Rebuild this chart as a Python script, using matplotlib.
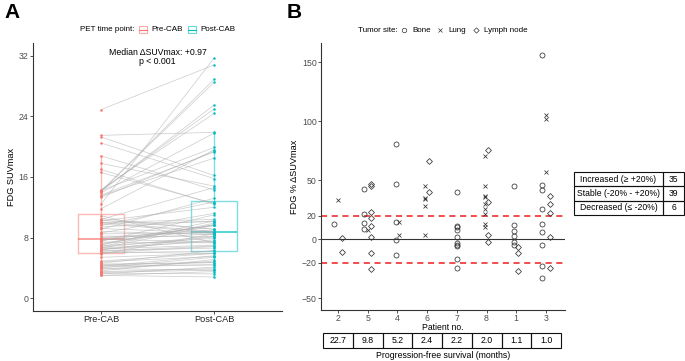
import matplotlib
matplotlib.use('Agg')
import matplotlib.pyplot as plt
import numpy as np
from matplotlib.patches import Rectangle
from matplotlib.lines import Line2D

plt.rcParams['font.family'] = ['Liberation Sans', 'DejaVu Sans']

# ---------------- data ----------------
patient_order = ['2', '5', '4', '6', '7', '8', '1', '3']
pfs_months = [22.7, 9.8, 5.2, 2.4, 2.2, 2.0, 1.1, 1.0]

lesion_patient = (['2'] * 4 + ['5'] * 13 + ['4'] * 7 + ['6'] * 7 + ['7'] * 10 +
                  ['8'] * 13 + ['1'] * 9 + ['3'] * 17)
lesion_site = [
    'Bone', 'Lung', 'Lymph node', 'Lymph node',
    'Lymph node', 'Lymph node', 'Bone', 'Lymph node', 'Bone', 'Lymph node', 'Bone',
    'Lymph node', 'Bone', 'Lung', 'Lymph node', 'Lymph node', 'Lymph node',
    'Bone', 'Bone', 'Bone', 'Lung', 'Lung', 'Bone', 'Bone',
    'Lymph node', 'Lung', 'Lymph node', 'Lung', 'Lung', 'Lung', 'Lung',
    'Bone', 'Bone', 'Bone', 'Bone', 'Bone', 'Bone', 'Bone', 'Bone', 'Bone', 'Bone',
    'Lymph node', 'Lung', 'Lung', 'Lung', 'Lung', 'Lymph node', 'Lung', 'Lung', 'Lung',
    'Lung', 'Lung', 'Lymph node', 'Lymph node',
    'Bone', 'Bone', 'Bone', 'Bone', 'Bone', 'Bone', 'Lymph node', 'Lymph node', 'Lymph node',
    'Bone', 'Lung', 'Lung', 'Lung', 'Bone', 'Bone', 'Lymph node', 'Lymph node', 'Bone',
    'Lymph node', 'Bone', 'Bone', 'Lymph node', 'Bone', 'Bone', 'Lymph node', 'Bone']
pct_change = [
    13, 33, 1, -11,
    47, 45, 43, 23, 21, 18, 14, 11, 9, 8, 2, -12, -25,
    81, 47, 15, 15, 4, -1, -13,
    66, 45, 40, 35, 34, 28, 4,
    40, 11, 10, 8, 1.5, -3, -5, -6, -17, -24,
    76, 71, 45, 37, 36, 32, 30, 26, 21, 13, 10, 4, -2,
    45, 12, 7, 3, -2, -5, -7, -12, -27,
    156, 105, 102, 57, 46, 42, 37, 30, 26, 22, 13, 6, 2, -5, -23, -24, -33]
pre_suv = [
    6.0, 4.2, 8.5, 9.8,
    7.5, 6.6, 3.6, 24.9, 6.4, 10.2, 4.8, 7.9, 3.4, 6.5, 21.5, 10.0, 16.6,
    14.1, 5.8, 6.9, 3.0, 4.5, 8.2, 10.5,
    11.8, 6.8, 14.2, 7.2, 4.0, 3.2, 6.3,
    10.4, 7.7, 5.4, 9.4, 4.3, 6.1, 8.8, 3.0, 17.8, 18.8,
    14.2, 14.3, 7.0, 4.6, 7.1, 9.6, 3.8, 6.4, 4.9, 8.0, 3.5, 10.0, 7.4,
    9.1, 6.2, 4.1, 6.0, 3.3, 7.8, 9.2, 10.3, 17.0,
    12.4, 14.1, 14.1, 13.9, 13.3, 13.6, 13.5, 8.6, 7.6, 6.7, 6.6, 4.4, 9.9, 3.9, 20.5, 21.3, 10.9]
post_suv = [
    6.8, 5.6, 8.6, 8.7,
    11.0, 9.6, 5.1, 30.8, 7.7, 12.0, 5.5, 8.8, 3.7, 7.0, 21.9, 8.8, 12.5,
    25.5, 8.5, 7.9, 3.5, 4.7, 8.1, 9.1,
    19.6, 9.9, 19.9, 9.7, 5.4, 4.1, 6.6,
    14.6, 8.5, 5.9, 10.2, 4.4, 5.9, 8.4, 2.8, 14.8, 14.3,
    25.0, 24.4, 10.2, 6.3, 9.7, 12.7, 4.9, 8.1, 5.9, 9.0, 3.9, 10.4, 7.3,
    13.2, 6.9, 4.4, 6.2, 3.2, 7.4, 8.6, 9.1, 12.4,
    31.7, 28.9, 28.5, 21.8, 19.4, 19.3, 18.5, 11.2, 9.6, 8.2, 7.5, 4.7, 10.1, 3.7, 15.8, 16.2, 7.3]

time_points = ['Pre-CAB', 'Post-CAB']
response_labels = ['Increased (\u2265 +20%)', 'Stable (-20% - +20%)', 'Decreased (\u2264 -20%)']
response_counts = [35, 39, 6]

# ---------------- style ----------------
W, H = 685, 361
fig = plt.figure(figsize=(W / 100, H / 100), dpi=100)
PRE_C, POST_C = '#F8766D', '#00BFC4'
FS = 6.3
TICK_C = '#4D4D4D'


def ax_px(l, t, r, b):
    return fig.add_axes([l / W, 1 - b / H, (r - l) / W, (b - t) / H])


def style_axis(ax):
    for s in ['top', 'right']:
        ax.spines[s].set_visible(False)
    for s in ['left', 'bottom']:
        ax.spines[s].set_color('#333333')
        ax.spines[s].set_linewidth(0.8)
    ax.tick_params(length=2.2, width=0.6, color='#333333', labelsize=FS,
                   labelcolor=TICK_C, pad=1.0)


# ---------------- panel A ----------------
axA = ax_px(33, 43, 282, 311)
style_axis(axA)
pre = np.array(pre_suv)
post = np.array(post_suv)

for c, vals, col in [(0, pre, PRE_C), (1, post, POST_C)]:
    bp = axA.boxplot([vals], positions=[c], widths=0.41, showfliers=False,
                     showcaps=False, patch_artist=False, manage_ticks=False)
    for b in bp['boxes']:
        b.set_color(col); b.set_alpha(0.5); b.set_linewidth(1.0)
    for w in bp['whiskers']:
        w.set_color(col); w.set_alpha(0.5); w.set_linewidth(1.0)
    for m in bp['medians']:
        m.set_color(col); m.set_alpha(0.85); m.set_linewidth(1.1)

for a, b in zip(pre, post):
    axA.plot([0, 1], [a, b], color='#b0b0b0', lw=0.55, alpha=0.6, zorder=3)
axA.plot(np.zeros(len(pre)), pre, 'o', color=PRE_C, ms=1.8, mew=0, zorder=4)
axA.plot(np.ones(len(post)), post, 'o', color=POST_C, ms=1.8, mew=0, zorder=4)

axA.set_xlim(-0.60, 1.60)
axA.set_ylim(-1.7, 33.7)
axA.set_xticks([0, 1])
axA.set_xticklabels(time_points, fontsize=6.6, color='#222222')
axA.set_yticks([0, 8, 16, 24, 32])
axA.set_ylabel('FDG SUVmax', fontsize=6.6, labelpad=2)
axA.text(0.5, 32.4, 'Median \u0394SUVmax: +0.97', ha='center', va='center', fontsize=FS)
axA.text(0.5, 31.2, 'p < 0.001', ha='center', va='center', fontsize=FS)

# legend A
fig.text(80 / W, 1 - 29.5 / H, 'PET time point:', fontsize=5.8, va='center', ha='left')
for (kx, tx, lab, col) in [(139, 151, 'Pre-CAB', PRE_C), (188, 200, 'Post-CAB', POST_C)]:
    fig.patches.append(Rectangle((kx / W, 1 - 33 / H), 8 / W, 7 / H, transform=fig.transFigure,
                                 fill=False, edgecolor=col, alpha=0.6, lw=0.8))
    fig.lines.append(Line2D([kx / W, (kx + 8) / W], [1 - 29.5 / H] * 2, transform=fig.transFigure,
                            color=col, lw=0.8))
    fig.text(tx / W, 1 - 29.5 / H, lab, fontsize=5.8, va='center', ha='left')

# ---------------- panel B ----------------
axB = ax_px(321, 43, 565, 310)
style_axis(axB)
axB.axhline(0, color='#333333', lw=0.8, zorder=1)
axB.axhline(20, color='#EE1C1C', lw=1.1, ls=(0, (4, 3)), zorder=1)
axB.axhline(-20, color='#EE1C1C', lw=1.1, ls=(0, (4, 3)), zorder=1)

site_order = ['Bone', 'Lung', 'Lymph node']
markers = {'Bone': dict(marker='o', ms=3.6), 'Lung': dict(marker='x', ms=3.2),
           'Lymph node': dict(marker='D', ms=3.0)}
pidx = {p: i for i, p in enumerate(patient_order)}
present = {p: [s for s in site_order
               if any(lp == p and ls == s for lp, ls in zip(lesion_patient, lesion_site))]
           for p in patient_order}
for s in site_order:
    xs, ys = [], []
    for lp, ls, v in zip(lesion_patient, lesion_site, pct_change):
        if ls != s:
            continue
        sites = present[lp]
        off = (sites.index(s) - (len(sites) - 1) / 2) * 0.12
        xs.append(pidx[lp] + off)
        ys.append(v)
    m = markers[s]
    axB.plot(xs, ys, linestyle='none', marker=m['marker'], ms=m['ms'], mfc='none',
             mec='#333333', mew=0.55, zorder=3)

axB.set_xlim(-0.57, 7.64)
axB.set_ylim(-60, 166.4)
axB.set_xticks(range(len(patient_order)))
axB.set_xticklabels(patient_order)
axB.set_yticks([-50, -20, 0, 20, 50, 100, 150])
axB.set_ylabel('FDG % \u0394SUVmax', fontsize=6.6, labelpad=2)
fig.text(443 / W, 1 - 327.5 / H, 'Patient no.', fontsize=6.2, ha='center', va='center')

# legend B
fig.text(358 / W, 1 - 30 / H, 'Tumor site:', fontsize=5.8, va='center', ha='left')
for (kx, tx, s) in [(404, 412, 'Bone'), (440, 448, 'Lung'), (476, 484, 'Lymph node')]:
    m = markers[s]
    fig.lines.append(Line2D([kx / W], [1 - 30 / H], transform=fig.transFigure, linestyle='none',
                            marker=m['marker'], ms=m['ms'] * 0.9, mfc='none', mec='#333333', mew=0.5))
    fig.text(tx / W, 1 - 30 / H, s, fontsize=5.8, va='center', ha='left')

# PFS table under panel B
axT = ax_px(323, 333, 561, 348)
axT.set_xlim(-0.5, len(pfs_months) - 0.5)
axT.set_ylim(0, 1)
axT.axis('off')
for i, v in enumerate(pfs_months):
    axT.add_patch(Rectangle((i - 0.5, 0), 1, 1, fill=False, edgecolor='#111111', lw=0.8,
                            clip_on=False))
    axT.text(i, 0.5, f'{v:.1f}', ha='center', va='center', fontsize=6.3)
fig.text(443 / W, 1 - 355.5 / H, 'Progression-free survival (months)', fontsize=6.3,
         ha='center', va='center')

# response table
axR = ax_px(574, 172, 684, 215)
axR.set_xlim(0, 110)
axR.set_ylim(0, 3)
axR.axis('off')
for r, (lab, cnt) in enumerate(zip(response_labels, response_counts)):
    y0 = 2 - r
    axR.add_patch(Rectangle((0, y0), 89, 1, fill=False, edgecolor='#111111', lw=0.8, clip_on=False))
    axR.add_patch(Rectangle((89, y0), 21, 1, fill=False, edgecolor='#111111', lw=0.8, clip_on=False))
    axR.text(44.5, y0 + 0.5, lab, ha='center', va='center', fontsize=6.2)
    axR.text(99.5, y0 + 0.5, str(cnt), ha='center', va='center', fontsize=6.2)

# panel letters
fig.text(4 / W, 1 - 12 / H, 'A', fontsize=15, fontweight='bold', ha='left', va='center')
fig.text(287 / W, 1 - 12 / H, 'B', fontsize=15, fontweight='bold', ha='left', va='center')

fig.savefig('out.png', dpi=100)
